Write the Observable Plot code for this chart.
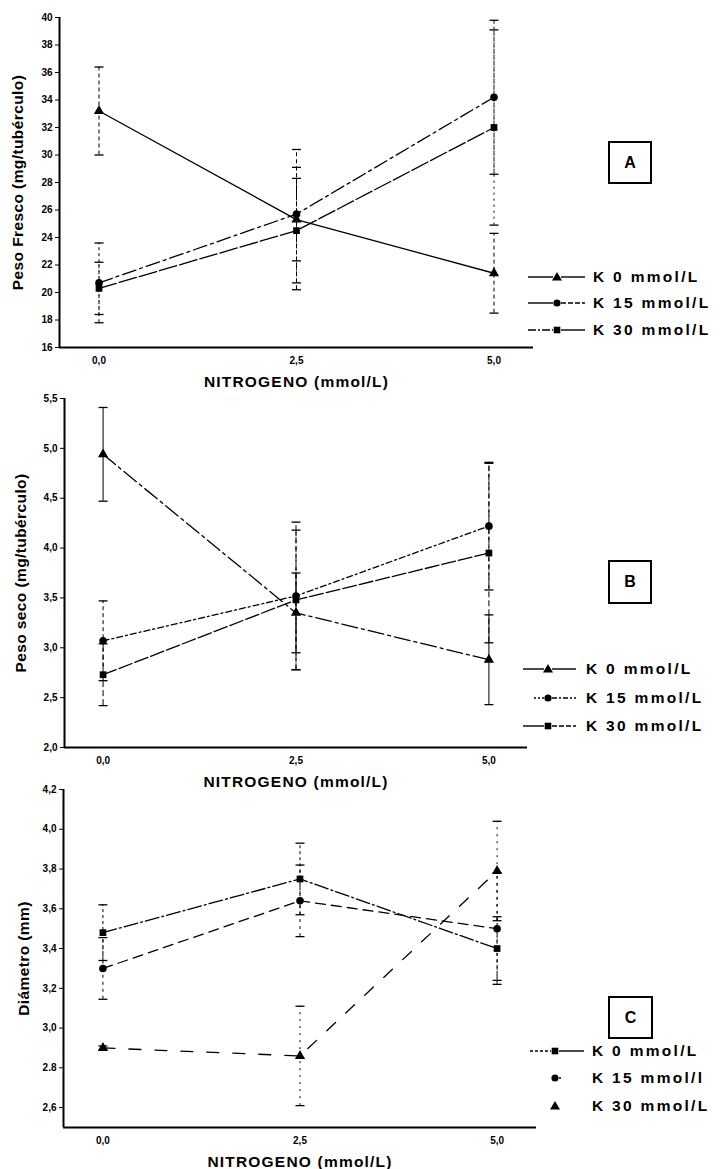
<!DOCTYPE html>
<html><head><meta charset="utf-8">
<script src="https://cdn.jsdelivr.net/npm/d3@7"></script>
<script src="https://cdn.jsdelivr.net/npm/@observablehq/plot@0.6"></script>
<style>
html,body{margin:0;padding:0;background:#fff;}
#wrap{position:relative;width:722px;height:1169px;overflow:hidden;font-family:"Liberation Sans",Arial,Helvetica,sans-serif;color:#000;}
.panel{position:absolute;left:0;}
.box{position:absolute;border:2px solid #000;box-sizing:border-box;display:flex;align-items:center;justify-content:center;font-size:16px;font-weight:bold;}
.leg{position:absolute;display:flex;align-items:center;height:20px;}
.leg span{font-size:15.5px;font-weight:bold;letter-spacing:2.3px;white-space:nowrap;}
</style></head>
<body><div id="wrap"></div>
<script>
// ---------- data ----------
const N = [0, 2.5, 5];
const xTickLabels = ["0,0", "2,5", "5,0"];
const xTitle = "NITROGENO (mmol/L)";
const seriesNames = ["K 0 mmol/L", "K 15 mmol/L", "K 30 mmol/L"];
const seriesNamesC = ["K 0 mmol/L", "K 15 mmol/l", "K 30 mmol/L"];

// Panel A: fresh weight
const freshTitle = "Peso Fresco (mg/tubérculo)";
const freshTicks = [16, 18, 20, 22, 24, 26, 28, 30, 32, 34, 36, 38, 40];
const freshTickLabels = ["16", "18", "20", "22", "24", "26", "28", "30", "32", "34", "36", "38", "40"];
const freshK0 = [33.2, 25.3, 21.4];
const freshK0Err = [3.2, 5.1, 2.9];
const freshK15 = [20.7, 25.7, 34.2];
const freshK15Err = [2.9, 3.4, 5.6];
const freshK30 = [20.3, 24.5, 32.0];
const freshK30Err = [1.9, 3.8, 7.1];

// Panel B: dry weight
const dryTitle = "Peso seco (mg/tubérculo)";
const dryTicks = [2.0, 2.5, 3.0, 3.5, 4.0, 4.5, 5.0, 5.5];
const dryTickLabels = ["2,0", "2,5", "3,0", "3,5", "4,0", "4,5", "5,0", "5,5"];
const dryK0 = [4.94, 3.35, 2.88];
const dryK0Err = [0.47, 0.40, 0.45];
const dryK15 = [3.07, 3.52, 4.22];
const dryK15Err = [0.40, 0.74, 0.64];
const dryK30 = [2.73, 3.48, 3.95];
const dryK30Err = [0.31, 0.70, 0.90];

// Panel C: diameter
const diamTitle = "Diámetro (mm)";
const diamTicks = [2.6, 2.8, 3.0, 3.2, 3.4, 3.6, 3.8, 4.0, 4.2];
const diamTickLabels = ["2,6", "2.8", "3,0", "3,2", "3,4", "3,6", "3,8", "4,0", "4,2"];
const diamK0 = [3.48, 3.75, 3.40];
const diamK0Err = [0.14, 0.18, 0.16];
const diamK15 = [3.30, 3.64, 3.50];
const diamK15Err = [0.155, 0.18, 0.28];
const diamK30 = [2.90, 2.86, 3.79];
const diamK30Err = [0.01, 0.25, 0.25];

// ---------- drawing ----------
const cap = {draw(ctx, size) { const w = Math.sqrt(size / Math.PI); ctx.moveTo(-w, 0); ctx.lineTo(w, 0); }};
const FONT = '"Liberation Sans", Arial, Helvetica, sans-serif';

function makePanel(cfg) {
  const marks = [];
  cfg.series.forEach(s => {
    const rows = N.map((n, j) => ({n, v: s.values[j], e: s.errs[j]}));
    marks.push(Plot.ruleX(rows, {x: "n", y1: d => d.v - d.e, y2: d => d.v + d.e, stroke: "#000", strokeWidth: 1, strokeDasharray: s.barDash}));
    marks.push(Plot.dot(rows, {x: "n", y: d => d.v + d.e, symbol: cap, r: 4.5, stroke: "#000", fill: "none", strokeWidth: 1.3}));
    marks.push(Plot.dot(rows, {x: "n", y: d => d.v - d.e, symbol: cap, r: 4.5, stroke: "#000", fill: "none", strokeWidth: 1.3}));
    marks.push(Plot.line(rows, {x: "n", y: "v", stroke: "#000", strokeWidth: 1.3, strokeDasharray: s.dash}));
    marks.push(Plot.dot(rows, {x: "n", y: "v", symbol: s.symbol, r: s.r, fill: "#000", stroke: "none"}));
  });
  marks.push(Plot.ruleY([cfg.yDomain[0]], {stroke: "#000", strokeWidth: 2}));
  marks.push(Plot.ruleX([-0.5], {stroke: "#000", strokeWidth: 2}));
  const svg = Plot.plot({
    width: 722, height: cfg.height,
    marginTop: cfg.mt, marginBottom: cfg.mb, marginLeft: cfg.ml, marginRight: cfg.mr,
    style: {fontFamily: FONT, fontSize: "10px", fontWeight: "bold", background: "transparent", overflow: "visible"},
    x: {domain: [-0.5, 5.5], ticks: N, tickFormat: (d, i) => xTickLabels[i], label: xTitle, labelAnchor: "center", labelArrow: "none", labelOffset: cfg.xlo, tickSize: 0, tickPadding: 9},
    y: {domain: cfg.yDomain, ticks: cfg.yTicks, tickFormat: (d, i) => cfg.yTickLabels[i], label: cfg.yTitle, labelAnchor: "center", labelArrow: "none", labelOffset: cfg.ylo, tickSize: 4, tickPadding: 3},
    marks
  });
  svg.classList.add("panel");
  svg.style.top = cfg.top + "px";
  d3.select(svg).selectAll("text").each(function() {
    const t = this.textContent;
    if (t.includes("NITROGENO") || t.includes("Peso") || t.includes("Diámetro")) {
      const clean = t.replace(/[\u2190-\u2193]/g, "").trim();
      if (clean !== t) {
        const ts = this.querySelector("tspan");
        if (ts) ts.textContent = clean; else this.textContent = clean;
      }
      this.setAttribute("font-size", "15.5");
      this.style.fontSize = "15.5px";
      this.style.letterSpacing = t.includes("NITROGENO") ? "1.2px" : "0.4px";
    }
  });
  document.getElementById("wrap").appendChild(svg);
}

const wrap = document.getElementById("wrap");
function addBox(letter, x, y, w, h) {
  const b = document.createElement("div");
  b.className = "box"; b.textContent = letter;
  Object.assign(b.style, {left: x + "px", top: y + "px", width: w + "px", height: h + "px"});
  wrap.appendChild(b);
}
function symbolPath(type, cx, cy) {
  if (type === "triangle") return `<path d="M${cx},${cy-5} L${cx+5},${cy+3.5} L${cx-5},${cy+3.5}Z" fill="#000"/>`;
  if (type === "circle") return `<circle cx="${cx}" cy="${cy}" r="3.6" fill="#000"/>`;
  return `<rect x="${cx-3.3}" y="${cy-3.3}" width="6.6" height="6.6" fill="#000"/>`;
}
function addLegend(items, x0, x1, xm, xt, ys) {
  items.forEach((it, i) => {
    const d = document.createElement("div");
    d.className = "leg";
    d.style.left = x0 + "px"; d.style.top = (ys[i] - 10) + "px";
    const w = xt - x0;
    const segL = it.left ? `<line x1="${it.left[0]}" x2="${xm - x0 - 4}" y1="10" y2="10" stroke="#000" stroke-width="1.4" ${it.left[1] ? `stroke-dasharray="${it.left[1]}"` : ""}/>` : "";
    const segR = it.right ? `<line x1="${xm - x0 + 4}" x2="${it.right[0]}" y1="10" y2="10" stroke="#000" stroke-width="1.4" ${it.right[1] ? `stroke-dasharray="${it.right[1]}"` : ""}/>` : "";
    d.innerHTML = `<svg width="${w}" height="20" style="display:block">${segL}${segR}${symbolPath(it.sym, xm - x0, 10)}</svg><span>${it.name}</span>`;
    wrap.appendChild(d);
  });
}

makePanel({
  top: 0, height: 392, mt: 17, mb: 45, ml: 59, mr: 189, xlo: 39, ylo: 48,
  yDomain: [16, 40], yTicks: freshTicks, yTickLabels: freshTickLabels, yTitle: freshTitle,
  series: [
    {values: freshK0, errs: freshK0Err, symbol: "triangle", r: 3.8, dash: null, barDash: "4,3"},
    {values: freshK15, errs: freshK15Err, symbol: "circle", r: 3.8, dash: "14,4,3,4", barDash: "3,3"},
    {values: freshK30, errs: freshK30Err, symbol: "square", r: 3.8, dash: "18,3", barDash: "2,4"}
  ]
});
makePanel({
  top: 392, height: 398, mt: 6, mb: 43, ml: 64, mr: 195, xlo: 39, ylo: 50,
  yDomain: [2.0, 5.5], yTicks: dryTicks, yTickLabels: dryTickLabels, yTitle: dryTitle,
  series: [
    {values: dryK0, errs: dryK0Err, symbol: "triangle", r: 3.8, dash: "16,4,3,4", barDash: null},
    {values: dryK15, errs: dryK15Err, symbol: "circle", r: 3.8, dash: "6,3,2,3", barDash: "4,3"},
    {values: dryK30, errs: dryK30Err, symbol: "square", r: 3.8, dash: "14,3", barDash: "6,3"}
  ]
});
makePanel({
  top: 784, height: 385, mt: 5, mb: 42, ml: 63, mr: 186, xlo: 39, ylo: 46,
  yDomain: [2.5, 4.2], yTicks: diamTicks, yTickLabels: diamTickLabels, yTitle: diamTitle,
  series: [
    {values: diamK0, errs: diamK0Err, symbol: "square", r: 3.8, dash: "14,3,2,3", barDash: "3,3"},
    {values: diamK15, errs: diamK15Err, symbol: "circle", r: 3.8, dash: "10,6", barDash: "3,4"},
    {values: diamK30, errs: diamK30Err, symbol: "triangle", r: 3.8, dash: "12,14", barDash: "2,5"}
  ]
});

addBox("A", 608, 141, 44, 43);
addBox("B", 608, 560, 44, 44);
addBox("C", 608, 996, 45, 43);

addLegend([
  {name: seriesNames[0], sym: "triangle", left: [0, null], right: [57, null]},
  {name: seriesNames[1], sym: "circle", left: [0, null], right: [57, "5,2"]},
  {name: seriesNames[2], sym: "square", left: [0, "8,2,2,2"], right: [57, null]}
], 528, 585, 557, 593, [277, 303, 330]);
addLegend([
  {name: seriesNames[0], sym: "triangle", left: [0, null], right: [53, null]},
  {name: seriesNames[1], sym: "circle", left: [11, "2,2"], right: [53, "5,2,2,2"]},
  {name: seriesNames[2], sym: "square", left: [0, null], right: [53, "5,2"]}
], 523, 576, 548, 586, [669, 698, 726]);
addLegend([
  {name: seriesNamesC[0], sym: "square", left: [0, "3,2"], right: [54, null]},
  {name: seriesNamesC[1], sym: "circle", left: null, right: [31, null]},
  {name: seriesNamesC[2], sym: "triangle", left: null, right: null}
], 530, 584, 555, 592, [1051, 1078, 1106]);
</script></body></html>
